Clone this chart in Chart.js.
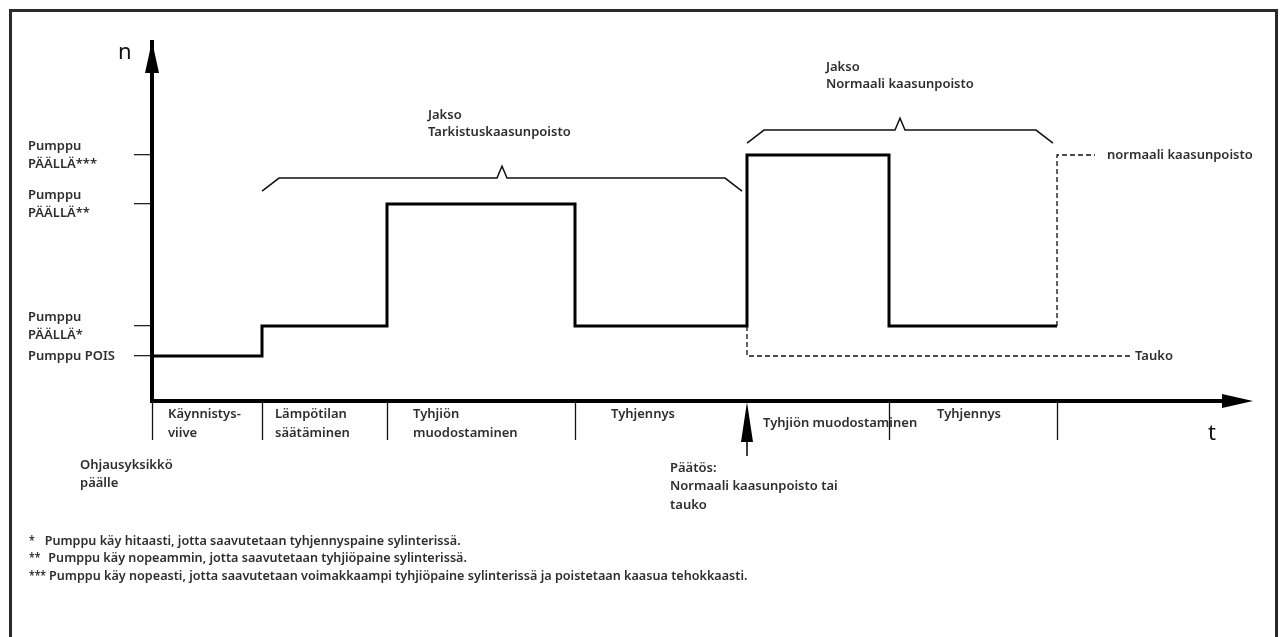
<!DOCTYPE html>
<html lang="fi">
<head>
<meta charset="utf-8">
<title>Pumppu</title>
<script src="https://cdn.jsdelivr.net/npm/chart.js@4.4.1/dist/chart.umd.min.js"></script>
<style>
    html, body { margin: 0; padding: 0; background: #fff; }
    canvas { display: block; }
</style>
</head>
<body>
<canvas id="pumpChart" width="1285" height="637"></canvas>
<script>
// ─── Data ─────────────────────────────────
const phaseStarts = [0, 11, 23.5, 42.3, 59.5, 73.7, 90.5];
const pumpLevels  = [0, 1, 5.07, 1, 6.7, 1, 1];
const phaseNames  = [
    ['Käynnistys-', 'viive'],
    ['Lämpötilan', 'säätäminen'],
    ['Tyhjiön', 'muodostaminen'],
    ['Tyhjennys'],
    ['Tyhjiön muodostaminen'],
    ['Tyhjennys']
];
const levelValues = [0, 1, 5.07, 6.7];
const levelLabels = [['Pumppu POIS'], ['Pumppu', 'PÄÄLLÄ*'], ['Pumppu', 'PÄÄLLÄ**'], ['Pumppu', 'PÄÄLLÄ***']];
const taukoT    = [59.5, 59.5, 97.8];
const taukoN    = [1, 0, 0];
const normaaliT = [90.5, 90.5, 94.3];
const normaaliN = [1, 6.7, 6.7];
const bracketSpans  = [[11, 59], [59.5, 90.1]];
const bracketLevels = [5.93, 7.53];
const bracketTitles = [['Jakso', 'Tarkistuskaasunpoisto'], ['Jakso', 'Normaali kaasunpoisto']];
const decisionT = 59.5;
const footnotes = [
    ['*', 'Pumppu käy hitaasti, jotta saavutetaan tyhjennyspaine sylinterissä.'],
    ['**', 'Pumppu käy nopeammin, jotta saavutetaan tyhjiöpaine sylinterissä.'],
    ['***', 'Pumppu käy nopeasti, jotta saavutetaan voimakkaampi tyhjiöpaine sylinterissä ja poistetaan kaasua tehokkaasti.']
];

const LABEL_FONT = '600 13px "Noto Sans"';
const TEXT_COLOR = '#2e2e2e';

const pts = (xs, ys) => xs.map((x, i) => ({ x, y: ys[i] }));

function label(ctx, lines, x, y, lh = 18, squeeze = 1) {
    ctx.save();
    ctx.font = LABEL_FONT;
    ctx.fillStyle = TEXT_COLOR;
    ctx.textAlign = 'left';
    ctx.textBaseline = 'middle';
    ctx.translate(x, y);
    ctx.scale(squeeze, 1);
    lines.forEach((s, i) => ctx.fillText(s, 0, i * lh));
    ctx.restore();
}

function triangle(ctx, ax, ay, bx, by, cx, cy) {
    ctx.beginPath();
    ctx.moveTo(ax, ay); ctx.lineTo(bx, by); ctx.lineTo(cx, cy);
    ctx.closePath();
    ctx.fill();
}

// ─── Drawing of axes arrows, brackets and texts ──
const schemePlugin = {
    id: 'scheme',
    afterDraw(chart) {
        const { ctx, chartArea: area, scales: { x, y } } = chart;
        const px = v => x.getPixelForValue(v);
        const py = v => y.getPixelForValue(v);
        const axisY = area.bottom;

        ctx.save();
        // frame
        ctx.strokeStyle = '#2a2a2a';
        ctx.lineWidth = 3;
        ctx.strokeRect(10.5, 10.5, 1266, 700);

        // t axis with arrow
        ctx.strokeStyle = '#000';
        ctx.fillStyle = '#000';
        ctx.lineWidth = 4;
        ctx.beginPath();
        ctx.moveTo(area.left - 2, axisY);
        ctx.lineTo(area.right - 25, axisY);
        ctx.stroke();
        triangle(ctx, area.right + 1, axisY, area.right - 30, axisY - 7, area.right - 30, axisY + 7);

        // n axis arrow
        triangle(ctx, area.left, area.top - 1, area.left - 7, area.top + 31, area.left + 7, area.top + 31);

        // axis letters
        ctx.font = '400 22px "Noto Sans"';
        ctx.fillStyle = '#111';
        ctx.textAlign = 'left';
        ctx.textBaseline = 'middle';
        ctx.fillText('n', area.left - 34, area.top + 11);
        ctx.fillText('t', area.right - 44, axisY + 33);

        // separators below t axis
        ctx.lineWidth = 1.3;
        ctx.strokeStyle = '#111';
        phaseStarts.filter(t => t !== decisionT).forEach(t => {
            const xx = Math.round(px(t)) + 0.5;
            ctx.beginPath();
            ctx.moveTo(xx, axisY);
            ctx.lineTo(xx, axisY + 39);
            ctx.stroke();
        });

        // decision arrow
        const dx = px(decisionT);
        ctx.lineWidth = 1.6;
        ctx.beginPath();
        ctx.moveTo(dx, axisY + 55);
        ctx.lineTo(dx, axisY + 38);
        ctx.stroke();
        ctx.fillStyle = '#000';
        triangle(ctx, dx, axisY + 1, dx - 6, axisY + 41, dx + 6, axisY + 41);

        // brackets
        ctx.lineWidth = 1.5;
        ctx.strokeStyle = '#111';
        bracketSpans.forEach(([a, b], i) => {
            const x0 = px(a), x1 = px(b), yy = py(bracketLevels[i]);
            const mid = (x0 + x1) / 2;
            ctx.beginPath();
            ctx.moveTo(x0, yy + 13);
            ctx.lineTo(x0 + 17, yy);
            ctx.lineTo(mid - 5, yy);
            ctx.lineTo(mid, yy - 12);
            ctx.lineTo(mid + 5, yy);
            ctx.lineTo(x1 - 17, yy);
            ctx.lineTo(x1, yy + 13);
            ctx.stroke();
            label(ctx, bracketTitles[i], mid - 74, yy - 63, 17);
        });

        // phase labels
        const offsets = [16, 13, 26, 36, 16, 48];
        const drops   = [13, 13, 13, 13, 22, 13];
        phaseNames.forEach((lines, i) => {
            label(ctx, lines, px(phaseStarts[i]) + offsets[i], axisY + drops[i], 19);
        });

        // line end texts
        label(ctx, ['normaali kaasunpoisto'], px(normaaliT[2]) + 12, py(normaaliN[2]));
        label(ctx, ['Tauko'], px(taukoT[2]) + 5, py(taukoN[2]));

        // lower notes
        label(ctx, ['Ohjausyksikkö', 'päälle'], 80, 465);
        label(ctx, ['Päätös:', 'Normaali kaasunpoisto tai', 'tauko'], dx - 77, 468, 18.5);

        const gaps = [10, 8, 3];
        footnotes.forEach(([mark, txt], i) => {
            const yy = 541 + i * 17.5;
            label(ctx, [mark], 29, yy, 18, 0.8);
            ctx.font = LABEL_FONT;
            const mw = ctx.measureText(mark).width * 0.8;
            label(ctx, [txt], 29 + mw + gaps[i], yy, 18, 0.97);
        });
        ctx.restore();
    }
};

new Chart(document.getElementById('pumpChart'), {
    type: 'line',
    data: {
        datasets: [
            {
                data: pts(phaseStarts, pumpLevels),
                stepped: true,
                borderColor: '#000',
                borderWidth: 3,
                pointRadius: 0,
                fill: false,
                clip: false
            },
            {
                data: pts(taukoT, taukoN),
                borderColor: '#111',
                borderWidth: 1.3,
                borderDash: [5, 3],
                pointRadius: 0,
                fill: false,
                clip: false
            },
            {
                data: pts(normaaliT, normaaliN),
                borderColor: '#111',
                borderWidth: 1.3,
                borderDash: [5, 3],
                pointRadius: 0,
                fill: false,
                clip: false
            }
        ]
    },
    options: {
        responsive: false,
        devicePixelRatio: 1,
        animation: false,
        events: [],
        layout: { padding: { left: 28, top: 42, right: 33, bottom: 236 } },
        plugins: { legend: { display: false }, tooltip: { enabled: false } },
        scales: {
            x: { type: 'linear', display: false, min: 0, max: 110 },
            y: {
                type: 'linear',
                min: -1.5,
                max: 10.467,
                afterBuildTicks(scale) { scale.ticks = levelValues.map(v => ({ value: v })); },
                afterFit(scale) { scale.width = 124; },
                border: { display: true, color: '#000', width: 4 },
                grid: { drawOnChartArea: false, drawTicks: true, tickLength: 18, color: '#222', lineWidth: 1.3 },
                ticks: {
                    autoSkip: false,
                    crossAlign: 'far',
                    color: TEXT_COLOR,
                    font: { family: 'Noto Sans', size: 13, weight: '600', lineHeight: 1.385 },
                    callback: (v, i) => levelLabels[i]
                }
            }
        }
    },
    plugins: [schemePlugin]
});
</script>
</body>
</html>
